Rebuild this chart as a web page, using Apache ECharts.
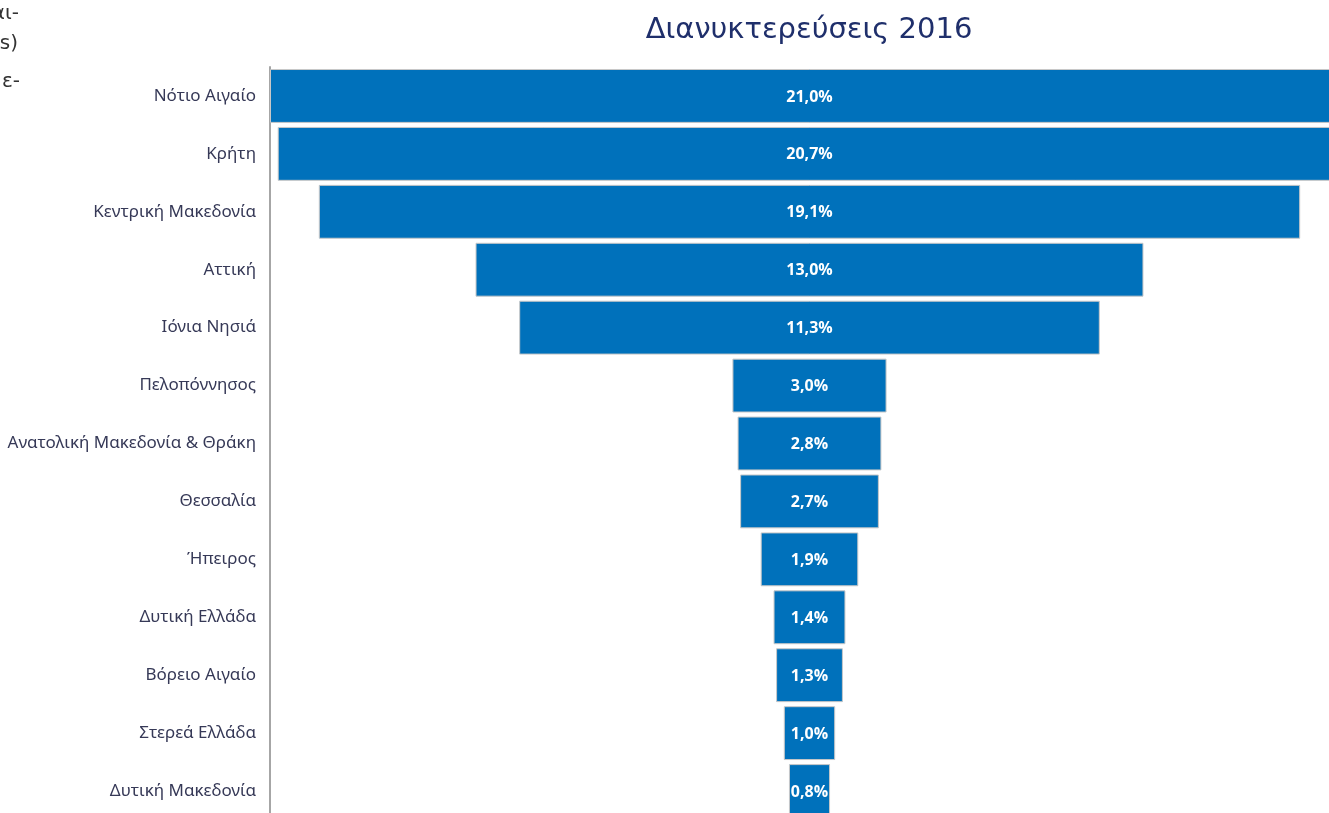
<!DOCTYPE html>
<html>
<head>
<meta charset="utf-8">
<script src="https://cdn.jsdelivr.net/npm/echarts@6/dist/echarts.min.js"></script>
<style>
  html, body { margin: 0; padding: 0; overflow: hidden; background: #fff; }
  #chart { width: 1360px; height: 860px; }
</style>
</head>
<body>
<div id="chart"></div>
<script>
// regions, top to bottom
var regions = [
  'Νότιο Αιγαίο',
  'Κρήτη',
  'Κεντρική Μακεδονία',
  'Αττική',
  'Ιόνια Νησιά',
  'Πελοπόννησος',
  'Ανατολική Μακεδονία & Θράκη',
  'Θεσσαλία',
  'Ήπειρος',
  'Δυτική Ελλάδα',
  'Βόρειο Αιγαίο',
  'Στερεά Ελλάδα',
  'Δυτική Μακεδονία'
]
// share of overnight stays, %
var shares = [21.0, 20.7, 19.1, 13.0, 11.3, 3.0, 2.8, 2.7, 1.9, 1.4, 1.3, 1.0, 0.8]

var maxShare = Math.max.apply(null, shares)
// transparent spacer so each bar is centred (funnel look)
var spacer = shares.map(function (v) { return (maxShare - v) / 2 })

var chart = echarts.init(document.getElementById('chart'))
chart.setOption({
  animation: false,
  title: {
    text: 'Διανυκτερεύσεις 2016',
    left: 804,
    textAlign: 'center',
    top: 11,
    textStyle: {
      fontFamily: 'DejaVu Sans',
      fontWeight: 'normal',
      fontSize: 29,
      color: '#1f2f6b'
    }
  },
  graphic: [
    { type: 'text', right: 1341, top: 4, style: { text: 'αι-', fill: '#333', font: '20px "DejaVu Sans"', textAlign: 'right' } },
    { type: 'text', right: 1342, top: 34, style: { text: 's)', fill: '#333', font: '20px "DejaVu Sans"', textAlign: 'right' } },
    { type: 'text', right: 1340, top: 72, style: { text: 'ε-', fill: '#333', font: '20px "DejaVu Sans"', textAlign: 'right' } }
  ],
  grid: {
    left: 270,
    top: 67,
    width: 1079,
    height: 753,
    containLabel: false
  },
  xAxis: {
    type: 'value',
    min: 0,
    max: maxShare,
    show: false
  },
  yAxis: {
    type: 'category',
    inverse: true,
    data: regions,
    axisLine: { show: true, lineStyle: { color: '#a6a6a6', width: 2 } },
    axisTick: { show: false },
    axisLabel: {
      margin: 14,
      fontFamily: 'Noto Sans',
      fontSize: 17,
      color: '#363957'
    }
  },
  series: [
    {
      type: 'bar',
      stack: 'f',
      data: spacer,
      itemStyle: { color: 'transparent' },
      barCategoryGap: '7%',
      silent: true
    },
    {
      type: 'bar',
      stack: 'f',
      data: shares,
      barCategoryGap: '7%',
      itemStyle: {
        color: '#0071bb',
        borderColor: '#c8c8c8',
        borderWidth: 1
      },
      label: {
        show: true,
        position: 'inside',
        offset: [0, 1],
        color: '#fff',
        fontFamily: 'Open Sans',
        fontWeight: 'bold',
        fontSize: 16,
        formatter: function (p) { return p.value.toFixed(1).replace('.', ',') + '%' }
      }
    }
  ]
})
</script>
</body>
</html>
